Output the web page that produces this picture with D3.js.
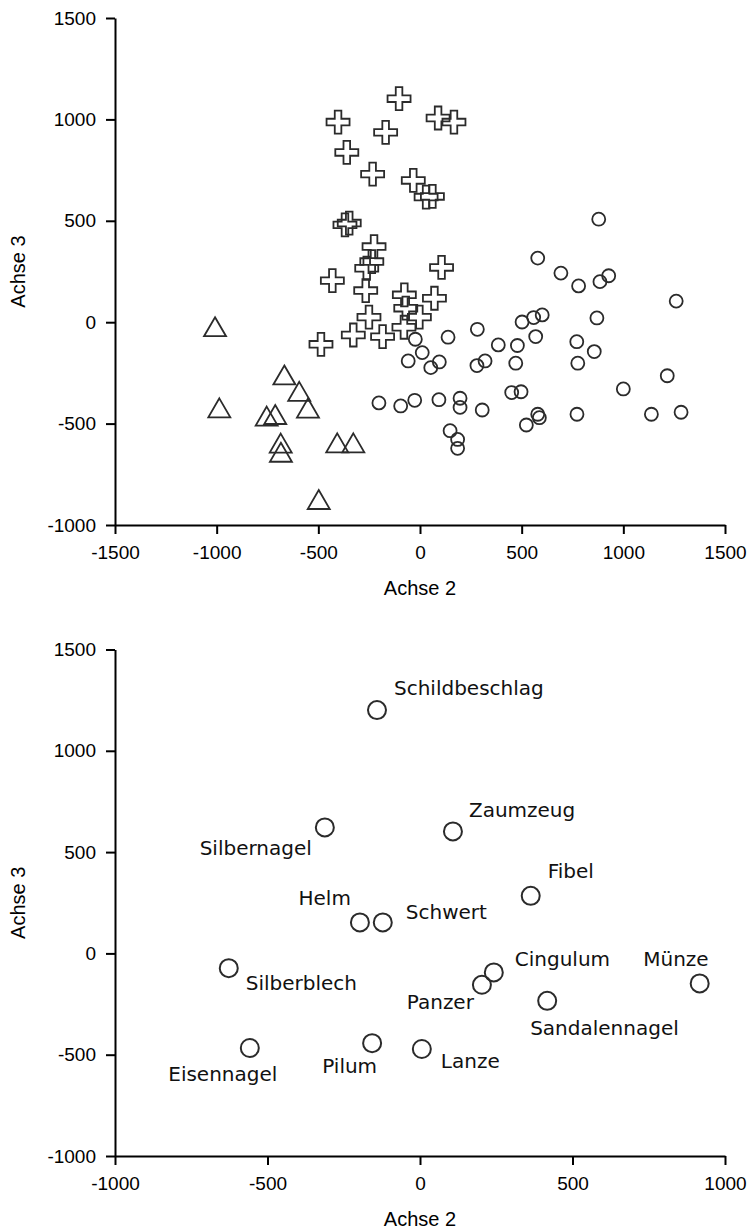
<!DOCTYPE html>
<html>
<head>
<meta charset="utf-8">
<script src="https://cdn.jsdelivr.net/npm/d3@7"></script>
<style>
  body { margin: 0; background: #fff; }
  svg { display: block; }
  .axis text { font-family: "Liberation Sans", Arial, sans-serif; font-size: 19px; fill: #000; }
  .axis path, .axis line { stroke: #000; stroke-width: 2; }
  .title { font-family: "Liberation Sans", Arial, sans-serif; font-size: 20px; fill: #000; }
  .label { font-family: "DejaVu Sans", sans-serif; font-size: 20px; fill: #111; }
</style>
</head>
<body>
<script>
// top chart: three groups of objects, Achse 2 vs Achse 3
var crossX = [-103, -403, -169, 89, 167, -360, -233, -33, 30, 61, -369, -348, -226, -237, -262,
              106, -431, -267, -77, -70, 71, -3, -251, -79, -328, -184, -487];
var crossY = [1102, 987, 936, 1007, 987, 837, 730, 699, 617, 620, 480, 489, 373, 299, 266,
              270, 205, 156, 135, 69, 118, 25, 25, -25, -63, -71, -109];

var circleX = [879, 579, 693, 780, 885, 928, 1260, 870, 601, 559, 502, 569, 282, 138, -23, 385,
               479, 771, 857, 11, -58, 53, 95, 280, 320, 471, 776, 1216, 1000, 451, 497, -202,
               -95, -26, 93, 197, 197, 306, 579, 587, 523, 772, 1138, 1284, 148, 185, 185];
var circleY = [508, 316, 242, 179, 200, 229, 104, 21, 36, 23, 1, -71, -35, -74, -84, -112,
               -115, -96, -145, -150, -191, -224, -196, -214, -191, -202, -202, -264, -329, -347, -343, -398,
               -413, -385, -382, -375, -420, -433, -454, -471, -507, -454, -454, -444, -535, -578, -622];

var triX = [-1008, -987, -667, -594, -551, -754, -712, -685, -684, -407, -328, -498];
var triY = [-38, -438, -276, -357, -439, -479, -471, -612, -657, -611, -611, -890];

// bottom chart: object types
var types = ['Schildbeschlag', 'Zaumzeug', 'Silbernagel', 'Fibel', 'Helm', 'Schwert', 'Silberblech',
             'Cingulum', 'Panzer', 'Münze', 'Sandalennagel', 'Pilum', 'Lanze', 'Eisennagel'];
var typeX = [-141, 108, -312, 363, -197, -122, -627, 242, 203, 917, 417, -157, 6, -558];
var typeY = [1201, 602, 622, 284, 153, 153, -73, -94, -155, -148, -234, -443, -472, -467];

var topXTicks = [-1500, -1000, -500, 0, 500, 1000, 1500];
var botXTicks = [-1000, -500, 0, 500, 1000];
var yTicks = [-1000, -500, 0, 500, 1000, 1500];

// label placement (anchor, dx, dy) relative to the point
var labelPos = {
    'Schildbeschlag': ['start', 17, -15], 'Zaumzeug': ['start', 16, -14],
    'Silbernagel': ['end', -13, 28], 'Fibel': ['start', 17, -18],
    'Helm': ['end', -9, -17], 'Schwert': ['start', 23, -3],
    'Silberblech': ['start', 17, 22], 'Cingulum': ['start', 21, -6],
    'Panzer': ['end', -8, 24], 'Münze': ['end', 9, -17],
    'Sandalennagel': ['start', -17, 34], 'Pilum': ['end', 5, 30],
    'Lanze': ['start', 19, 19], 'Eisennagel': ['middle', -27, 33]
};

var W = 748, H = 1230;
var left = 115, right = 725;
var svg = d3.select('body').append('svg').attr('width', W).attr('height', H);
svg.append('rect').attr('width', W).attr('height', H).attr('fill', '#fff');

function drawAxes(g, x, y, xTicks, top, bottom) {
    g.append('g').classed('axis', true)
     .attr('transform', 'translate(0,' + bottom + ')')
     .call(d3.axisBottom(x).tickValues(xTicks).tickSize(9).tickSizeOuter(0).tickPadding(12).tickFormat(d3.format('d')));
    g.append('g').classed('axis', true)
     .attr('transform', 'translate(' + left + ',0)')
     .call(d3.axisLeft(y).tickValues(yTicks).tickSize(9).tickSizeOuter(0).tickPadding(10).tickFormat(d3.format('d')));
    g.selectAll('.axis text').text((d) => d < 0 ? '-' + Math.abs(d) : d);

    g.append('text').classed('title', true)
     .attr('x', (left + right) / 2).attr('y', bottom + 70)
     .attr('text-anchor', 'middle').text('Achse 2');
    g.append('text').classed('title', true)
     .attr('transform', 'translate(25,' + ((top + bottom) / 2) + ') rotate(-90)')
     .attr('text-anchor', 'middle').text('Achse 3');
}

// Top chart
var gTop = svg.append('g');
var xTop = d3.scaleLinear().domain([-1500, 1500]).range([left, right]);
var yTop = d3.scaleLinear().domain([-1000, 1500]).range([525, 18]);
drawAxes(gTop, xTop, yTop, topXTicks, 18, 525);

var ink = '#2b2b2b';
var a = 11.5, w = 3.3;
var crossPath = 'M' + -w + ',' + -a + 'H' + w + 'V' + -w + 'H' + a + 'V' + w + 'H' + w + 'V' + a +
                'H' + -w + 'V' + w + 'H' + -a + 'V' + -w + 'H' + -w + 'Z';
var triPath = 'M0,-12.7L11,6.3L-11,6.3Z';

gTop.append('g').selectAll('path').data(d3.zip(crossX, crossY)).enter().append('path')
    .attr('d', crossPath)
    .attr('transform', (d) => 'translate(' + xTop(d[0]) + ',' + yTop(d[1]) + ')')
    .attr('fill', 'none').attr('stroke', ink).attr('stroke-width', 1.8);

gTop.append('g').selectAll('circle').data(d3.zip(circleX, circleY)).enter().append('circle')
    .attr('cx', (d) => xTop(d[0])).attr('cy', (d) => yTop(d[1])).attr('r', 6.5)
    .attr('fill', 'none').attr('stroke', ink).attr('stroke-width', 1.8);

gTop.append('g').selectAll('path').data(d3.zip(triX, triY)).enter().append('path')
    .attr('d', triPath)
    .attr('transform', (d) => 'translate(' + xTop(d[0]) + ',' + yTop(d[1]) + ')')
    .attr('fill', 'none').attr('stroke', ink).attr('stroke-width', 1.8);

// Bottom chart
var gBot = svg.append('g');
var xBot = d3.scaleLinear().domain([-1000, 1000]).range([left, right]);
var yBot = d3.scaleLinear().domain([-1000, 1500]).range([1156, 649.5]);
drawAxes(gBot, xBot, yBot, botXTicks, 649.5, 1156);

var pts = d3.zip(types, typeX, typeY);
gBot.append('g').selectAll('circle').data(pts).enter().append('circle')
    .attr('cx', (d) => xBot(d[1])).attr('cy', (d) => yBot(d[2])).attr('r', 9)
    .attr('fill', 'none').attr('stroke', ink).attr('stroke-width', 2);

gBot.append('g').selectAll('text').data(pts).enter().append('text').classed('label', true)
    .attr('x', (d) => xBot(d[1]) + labelPos[d[0]][1])
    .attr('y', (d) => yBot(d[2]) + labelPos[d[0]][2])
    .attr('text-anchor', (d) => labelPos[d[0]][0])
    .text((d) => d[0]);
</script>
</body>
</html>
